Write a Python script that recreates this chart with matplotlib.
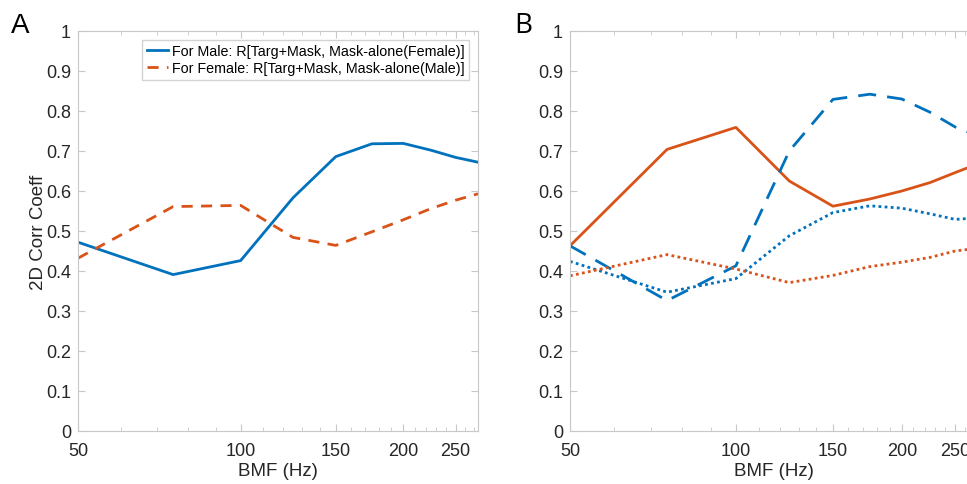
import matplotlib.pyplot as plt
from matplotlib.ticker import FixedLocator, NullFormatter

plt.rcParams['font.family'] = ['Liberation Sans', 'DejaVu Sans']

# BMF values (Hz)
bmf = [50, 75, 100, 125, 150, 175, 200, 225, 250, 275]

# panel A
a_male = [0.472, 0.391, 0.426, 0.583, 0.686, 0.718, 0.719, 0.702, 0.684, 0.672]
a_female = [0.432, 0.561, 0.564, 0.484, 0.464, 0.498, 0.528, 0.556, 0.577, 0.593]

# panel B
b_orange_solid = [0.463, 0.704, 0.759, 0.625, 0.562, 0.580, 0.600, 0.621, 0.646, 0.668]
b_blue_dashed = [0.463, 0.326, 0.413, 0.700, 0.829, 0.842, 0.830, 0.797, 0.760, 0.738]
b_blue_dotted = [0.424, 0.347, 0.381, 0.488, 0.546, 0.563, 0.557, 0.543, 0.529, 0.533]
b_orange_dotted = [0.388, 0.441, 0.405, 0.371, 0.389, 0.411, 0.422, 0.434, 0.450, 0.457]

xticks = [50, 100, 150, 200, 250]
yticks = [0, 0.1, 0.2, 0.3, 0.4, 0.5, 0.6, 0.7, 0.8, 0.9, 1]
ytick_labels = ['0', '0.1', '0.2', '0.3', '0.4', '0.5', '0.6', '0.7', '0.8', '0.9', '1']

blue = '#0072BD'
orange = '#D95319'
spine = '#c8c8c8'
txt = '#262626'

fig = plt.figure(figsize=(9.67, 4.85), dpi=100)
axA = fig.add_axes([78 / 967, 53 / 485, 400 / 967, 400 / 485])
axB = fig.add_axes([570 / 967, 53 / 485, 408 / 967, 400 / 485])


def style(ax):
    ax.set_xscale('log')
    ax.set_xlim(50, 275)
    ax.set_ylim(0, 1)
    ax.xaxis.set_major_locator(FixedLocator(xticks))
    ax.xaxis.set_minor_locator(FixedLocator([60, 70, 80, 90] + list(range(110, 280, 10))))
    ax.xaxis.set_minor_formatter(NullFormatter())
    ax.set_xticklabels([str(t) for t in xticks])
    ax.set_yticks(yticks)
    ax.set_yticklabels(ytick_labels)
    ax.tick_params(which='both', direction='in', top=True, right=True,
                   color=spine, labelcolor=txt, labelsize=13)
    ax.tick_params(which='major', length=5)
    ax.tick_params(which='minor', length=3)
    ax.tick_params(axis='x', pad=8)
    ax.tick_params(axis='y', pad=5)
    for s in ax.spines.values():
        s.set_color(spine)
    ax.set_xlabel('BMF (Hz)', fontsize=13.5, color=txt, labelpad=2)


style(axA)
axA.plot(bmf, a_male, color=blue, lw=2, label='For Male: R[Targ+Mask, Mask-alone(Female)]')
axA.plot(bmf, a_female, color=orange, lw=2, ls=(0, (4, 3)), label='For Female: R[Targ+Mask, Mask-alone(Male)]')
axA.set_ylabel('2D Corr Coeff', fontsize=13.5, color=txt, labelpad=-1)
leg = axA.legend(loc='upper right', fontsize=10.3, frameon=True, fancybox=False,
                 handlelength=1.5, handletextpad=0.3, borderpad=0.3,
                 labelspacing=0.25, borderaxespad=0.6)
leg.get_frame().set_edgecolor(spine)
leg.get_frame().set_linewidth(1)

style(axB)
axB.plot(bmf, b_orange_solid, color=orange, lw=2)
axB.plot(bmf, b_blue_dashed, color=blue, lw=2, ls=(0, (6.5, 4)))
axB.plot(bmf, b_blue_dotted, color=blue, lw=2, ls=(0, (1, 1.2)))
axB.plot(bmf, b_orange_dotted, color=orange, lw=2, ls=(0, (1, 1.2)))

fig.text(11 / 967, 1 - 33 / 485, 'A', fontsize=20, color='black')
fig.text(514 / 967, 1 - 33 / 485, 'B', fontsize=20, color='black', family='Open Sans')

fig.savefig('out.png', dpi=100)
